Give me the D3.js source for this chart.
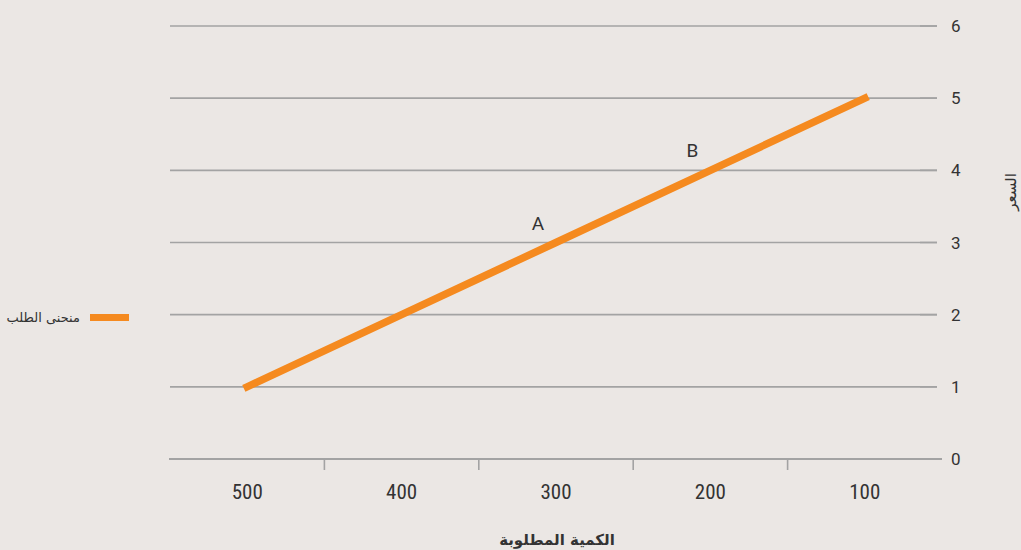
<!DOCTYPE html>
<html><head><meta charset="utf-8">
<script src="https://cdn.jsdelivr.net/npm/d3@7"></script>
<style>
body{margin:0;background:#ebe7e4;}
svg{display:block;}
</style></head>
<body><svg id="c" width="1021" height="550"></svg>
<script>
const quantities = [500, 400, 300, 200, 100];
const prices = [1, 2, 3, 4, 5];
const yTicks = [0, 1, 2, 3, 4, 5, 6];
const pointLabels = [{name: "A", q: 300, p: 3}, {name: "B", q: 200, p: 4}];
const seriesName = "منحنى الطلب";
const xTitle = "الكمية المطلوبة";
const yTitle = "السعر";

const svg = d3.select("#c");
svg.append("rect").attr("width",1021).attr("height",550).attr("fill","#ebe7e4");

const x = d3.scaleBand().domain(quantities).range([170, 942]);
const y = d3.scaleLinear().domain([0, 6]).range([459, 26]);
const gridColor = "#a3a3a3";

// gridlines + y labels
const yg = svg.append("g");
yTicks.filter(t => t > 0).forEach(t => {
  yg.append("line").attr("x1",170).attr("x2",937).attr("y1",y(t)).attr("y2",y(t))
    .attr("stroke",gridColor).attr("stroke-width",1.6);
});
yTicks.forEach(t => {
  yg.append("line").attr("x1",920).attr("x2",937).attr("y1",y(t)).attr("y2",y(t))
    .attr("stroke",gridColor).attr("stroke-width",1.6);
  yg.append("text").attr("x",951).attr("y",y(t)).attr("dy","0.36em")
    .attr("font-family","Roboto, sans-serif").attr("font-size",17).attr("fill","#333")
    .text(t);
});

// x axis
const xAxis = d3.axisBottom(x).tickSize(0).tickPadding(25);
const xg = svg.append("g").attr("transform",`translate(0,${y(0)})`).call(xAxis);
xg.select(".domain").remove();
xg.append("line").attr("x1",169).attr("x2",942).attr("y1",0).attr("y2",0)
  .attr("stroke",gridColor).attr("stroke-width",2);
quantities.slice(1).forEach(q => {
  xg.append("line").attr("x1",x(q)).attr("x2",x(q)).attr("y1",0).attr("y2",11)
    .attr("stroke",gridColor).attr("stroke-width",1.6);
});
xg.selectAll(".tick text").attr("font-family","'Liberation Sans Narrow', 'Roboto Condensed', sans-serif")
  .attr("font-size",21).attr("fill","#333");

// line
const cx = q => x(q) + x.bandwidth()/2;
const line = d3.line().x((d,i) => cx(quantities[i])).y(d => y(d));
svg.append("path").datum(prices).attr("d",line)
  .attr("fill","none").attr("stroke","#f58a1f").attr("stroke-width",7.5)
  .attr("stroke-linecap","square");

// point labels
pointLabels.forEach(d => {
  svg.append("text").attr("x",cx(d.q)-18).attr("y",y(d.p)-13)
    .attr("text-anchor","middle").attr("font-family","Roboto, sans-serif")
    .attr("font-size",19).attr("fill","#333").text(d.name);
});

// legend
svg.append("rect").attr("x",90).attr("y",314).attr("width",39).attr("height",7).attr("fill","#f58a1f");
svg.append("text").attr("x",80).attr("y",317).attr("dy","0.35em").attr("text-anchor","end")
  .attr("font-family","'DejaVu Sans', sans-serif").attr("font-size",13).attr("fill","#333")
  .text(seriesName);

// axis titles
svg.append("text").attr("x",557).attr("y",545).attr("text-anchor","middle")
  .attr("font-family","'DejaVu Sans', sans-serif").attr("font-weight","bold").attr("font-size",15)
  .attr("fill","#333").text(xTitle);
svg.append("text").attr("transform","translate(1016,192) rotate(-90)").attr("text-anchor","middle")
  .attr("font-family","'DejaVu Sans', sans-serif").attr("font-size",15)
  .attr("fill","#333").text(yTitle);
</script>
</body></html>
